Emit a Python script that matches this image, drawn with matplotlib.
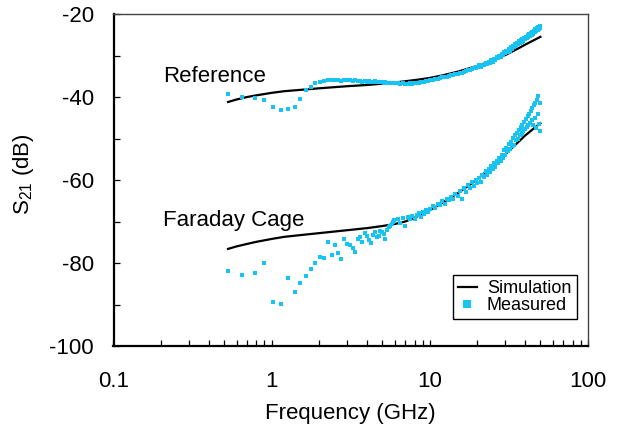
import matplotlib
matplotlib.use("Agg")
import matplotlib.pyplot as plt
from matplotlib.ticker import LogLocator, FixedLocator, FixedFormatter, MultipleLocator, NullFormatter

plt.rcParams['font.family'] = ['Liberation Sans', 'DejaVu Sans']
plt.rcParams['mathtext.default'] = 'regular'
plt.rcParams['axes.unicode_minus'] = False

# Simulated S21 curves (GHz, dB)
ref_sim_freq = [0.53, 0.6, 0.7, 0.8, 1.0, 1.2, 1.5, 2.0, 3.0, 4.0, 5.0, 6.0, 7.0, 8.5,
                10, 12, 15, 20, 25, 30, 35, 40, 45, 50]
ref_sim = [-41.2, -40.6, -40.0, -39.6, -39.0, -38.6, -38.3, -37.9, -37.4, -37.1, -36.8,
           -36.5, -36.2, -35.8, -35.4, -34.8, -33.9, -32.5, -31.2, -29.9, -28.6, -27.4,
           -26.4, -25.5]

cage_sim_freq = [0.53, 0.6, 0.7, 0.8, 1.0, 1.2, 1.5, 2.0, 3.0, 4.0, 5.0, 6.0, 7.0, 8.0,
                 10, 12, 15, 20, 25, 30, 35, 40, 45, 50]
cage_sim = [-76.6, -76.0, -75.4, -74.9, -74.2, -73.7, -73.3, -72.8, -72.1, -71.6, -71.1,
            -70.6, -70.0, -69.1, -67.3, -65.5, -63.2, -59.8, -56.6, -53.8, -51.4, -49.3,
            -47.7, -46.3]

# Measured frequency points (GHz)
meas_freq = [0.53, 0.65, 0.78, 0.90, 1.02, 1.15, 1.27, 1.40, 1.52, 1.64, 1.77, 1.89,
             2.01, 2.14, 2.26, 2.39, 2.51, 2.63, 2.76, 2.88, 3.00, 3.13, 3.25, 3.38,
             3.50, 3.62, 3.75, 3.87, 3.99,
             4.12, 4.24, 4.37, 4.49, 4.61, 4.74, 4.86, 4.98, 5.11, 5.23, 5.36, 5.48,
             5.60, 5.73, 5.85, 5.97,
             6.25, 6.5, 6.75, 7.0, 7.25, 7.5, 7.75, 8.0, 8.25, 8.5, 8.75, 9.0, 9.25,
             9.5, 9.75, 10.0,
             10.4, 10.8, 11.2, 11.6, 12.0, 12.4, 12.8, 13.2, 13.6, 14.0, 14.5, 15.0,
             15.5, 16.0, 16.5, 17.0, 17.5, 18.0, 18.5, 19.0, 19.5, 20.0,
             20.5, 21.0, 21.5, 22.0, 22.5, 23.0, 23.5, 24.0, 24.5, 25.0,
             25.5, 26.0, 26.5, 27.0, 27.5, 28.0, 28.5, 29.0, 29.5, 30.0,
             30.5, 31.0, 31.5, 32.0, 32.5, 33.0, 33.5, 34.0, 34.5, 35.0,
             35.5, 36.0, 36.5, 37.0, 37.5, 38.0, 38.5, 39.0, 39.5, 40.0,
             40.5, 41.0, 41.5, 42.0, 42.5, 43.0, 43.5, 44.0, 44.5, 45.0,
             45.5, 46.0, 46.5, 47.0, 47.5, 48.0, 48.5, 49.0, 49.5, 50.0]

ref_meas = [-39.3, -39.9, -40.3, -40.7, -42.3, -43.1, -42.9, -42.3, -40.5, -38.3, -37.6, -36.6,
            -36.3, -36.1, -36.0, -36.0, -35.9, -36.0, -36.1, -36.0, -35.9, -36.0, -36.1, -36.0,
            -36.2, -36.1, -36.3, -36.2, -36.3,
            -36.2, -36.4, -36.3, -36.2, -36.4, -36.5, -36.4, -36.5, -36.6, -36.5, -36.6, -36.7,
            -36.6, -36.7, -36.6, -36.7,
            -36.7, -36.8, -36.7, -36.8, -36.8, -36.7, -36.8, -36.7, -36.6, -36.6, -36.5, -36.4,
            -36.3, -36.2, -36.1, -35.9,
            -35.8, -35.7, -35.6, -35.5, -35.3, -35.2, -35.1, -34.9, -34.8, -34.7, -34.5, -34.4,
            -34.2, -34.1, -33.9, -33.8, -33.6, -33.4, -33.3, -33.1, -32.9, -32.7,
            -32.4, -32.7, -32.2, -32.4, -31.8, -32.1, -31.5, -31.8, -31.1, -31.5,
            -30.8, -31.0, -30.4, -30.7, -30.0, -30.3, -29.6, -29.9, -29.2, -29.5,
            -28.8, -29.1, -28.4, -28.8, -28.0, -28.4, -27.7, -28.0, -27.3, -27.7,
            -27.0, -27.3, -26.6, -27.0, -26.3, -26.7, -26.0, -26.4, -25.7, -26.1,
            -25.5, -25.9, -25.1, -25.6, -24.9, -25.3, -24.6, -25.0, -24.3, -24.7,
            -24.0, -24.4, -23.7, -24.1, -23.4, -23.8, -23.1, -23.5, -22.8, -23.3]

cage_meas = [-81.9, -82.9, -82.5, -80.1, -89.5, -89.9, -83.7, -86.9, -84.9, -83.1, -81.4, -80.1,
             -78.5, -78.9, -74.9, -78.1, -75.7, -77.7, -79.1, -74.3, -75.5, -75.7, -76.4, -77.3,
             -74.3, -73.7, -74.9, -72.8, -73.6,
             -74.5, -75.1, -73.3, -72.6, -73.8, -73.5, -72.4, -72.5, -73.0, -74.3, -72.0, -71.4,
             -71.2, -70.6, -70.0, -69.6,
             -69.4, -70.3, -69.2, -71.2, -69.0, -69.5, -68.6, -69.3, -68.4, -68.0, -68.8, -67.7,
             -68.2, -67.3, -67.8, -67.0,
             -66.2, -66.8, -65.7, -66.0, -65.1, -65.8, -64.6, -64.9, -64.0, -64.6, -63.4, -63.9,
             -62.6, -64.6, -61.9, -62.8, -61.2, -61.9, -60.5, -61.4, -60.0, -60.7,
             -59.6, -60.4, -58.7, -59.3, -57.9, -58.8, -57.4, -58.1, -56.6, -57.3,
             -55.8, -56.9, -55.4, -56.0, -54.6, -55.5, -53.9, -54.6, -52.8, -54.0,
             -52.2, -53.1, -51.3, -52.6, -50.8, -51.9, -49.9, -51.5, -49.2, -50.4,
             -48.6, -50.0, -47.9, -49.2, -47.3, -48.9, -46.7, -48.3, -46.0, -47.8,
             -45.4, -47.2, -44.6, -46.8, -44.0, -46.2, -43.3, -45.6, -42.6, -46.8,
             -42.0, -45.0, -41.4, -47.5, -40.8, -44.2, -39.8, -46.5, -41.5, -48.3]

x_ticks = [0.1, 1, 10, 100]
x_tick_labels = ["0.1", "1", "10", "100"]
y_ticks = [-100, -80, -60, -40, -20]

cyan = "#17C3F2"

fig = plt.figure(figsize=(6.23, 4.33), dpi=100)
ax = fig.add_axes([113.5 / 623, 87 / 433, 474.5 / 623, 332 / 433])

ax.plot(ref_sim_freq, ref_sim, color="black", lw=1.6, zorder=2, label="Simulation")
ax.plot(cage_sim_freq, cage_sim, color="black", lw=1.6, zorder=2)
ax.plot(meas_freq, ref_meas, ls="none", marker="s", ms=3.0, mew=0, color=cyan,
        zorder=3, label="Measured")
ax.plot(meas_freq, cage_meas, ls="none", marker="s", ms=3.0, mew=0, color=cyan, zorder=3)

ax.set_xscale("log")
ax.set_xlim(0.1, 100)
ax.set_ylim(-100, -20)

ax.xaxis.set_major_locator(FixedLocator(x_ticks))
ax.xaxis.set_major_formatter(FixedFormatter(x_tick_labels))
ax.xaxis.set_minor_locator(LogLocator(base=10, subs=range(2, 10)))
ax.xaxis.set_minor_formatter(NullFormatter())
ax.yaxis.set_major_locator(FixedLocator(y_ticks))
ax.yaxis.set_minor_locator(MultipleLocator(10))

ax.tick_params(axis="both", which="both", direction="in", length=4, width=0.9,
               top=False, right=False, labelsize=16)
ax.tick_params(axis="x", which="major", pad=18)
ax.tick_params(axis="y", which="major", pad=14)

for side in ("left", "bottom"):
    ax.spines[side].set_linewidth(1.6)
    ax.spines[side].set_color("black")
for side in ("top", "right"):
    ax.spines[side].set_linewidth(1.0)
    ax.spines[side].set_color("#444444")

ax.text(0.205, -36.3, "Reference", fontsize=16, ha="left", va="baseline")
ax.text(0.205, -71.2, "Faraday Cage", fontsize=16, ha="left", va="baseline")

fig.text(350.5 / 623, (433 - 413) / 433, "Frequency (GHz)", fontsize=16,
         ha="center", va="center")
fig.text(23 / 623, (433 - 174) / 433, r"S$_{21}$ (dB)", fontsize=16, rotation=90,
         ha="center", va="center")

leg = ax.legend(loc="lower right", bbox_to_anchor=(0.976, 0.080), fontsize=13,
                frameon=True, fancybox=False, edgecolor="black", framealpha=1,
                handlelength=1.05, handletextpad=0.55, borderpad=0.3,
                labelspacing=0.0, markerscale=1.7, borderaxespad=0)
leg.get_frame().set_linewidth(1.0)

fig.savefig("out.png", dpi=100)
